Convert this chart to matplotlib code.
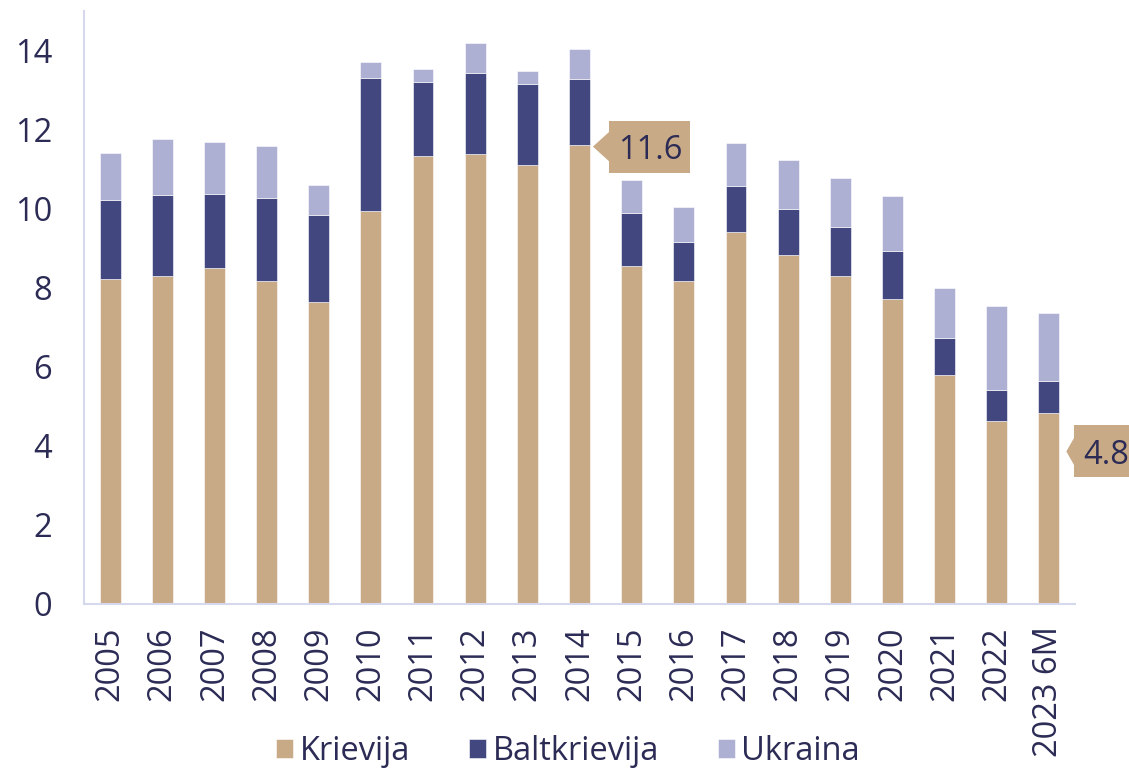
import numpy as np
import matplotlib as mpl
mpl.use("Agg")
import matplotlib.pyplot as plt
import matplotlib.patches as mpatches
import matplotlib.transforms as mtransforms

plt.rcParams['font.family'] = ['Open Sans', 'DejaVu Sans']

years = ["2005", "2006", "2007", "2008", "2009", "2010", "2011", "2012", "2013",
         "2014", "2015", "2016", "2017", "2018", "2019", "2020", "2021", "2022",
         "2023 6M"]
krievija = [8.22, 8.29, 8.50, 8.16, 7.63, 9.95, 11.34, 11.38, 11.11, 11.62,
            8.56, 8.18, 9.41, 8.83, 8.29, 7.72, 5.78, 4.64, 4.82]
baltkrievija = [2.01, 2.06, 1.86, 2.12, 2.22, 3.36, 1.86, 2.04, 2.05, 1.67,
                1.34, 0.97, 1.16, 1.17, 1.25, 1.21, 0.95, 0.78, 0.83]
ukraina = [1.19, 1.42, 1.33, 1.31, 0.76, 0.39, 0.34, 0.77, 0.31, 0.75,
           0.83, 0.88, 1.08, 1.22, 1.24, 1.39, 1.27, 2.12, 1.70]
series_names = ["Krievija", "Baltkrievija", "Ukraina"]
callout_labels = {9: "11.6", 18: "4.8"}

TAN = "#C9AA87"
DARK = "#434780"
LIGHT = "#AEB0D3"
TEXT = "#2B2B55"
SPINE = "#D6D8EE"
FS = 23.5
BAR_W = 0.4

fig = plt.figure(figsize=(11.29, 7.70), dpi=100)
ax = fig.add_axes([84 / 1129, 1 - 604 / 770, 991 / 1129, 593 / 770])

x = np.arange(len(years))
kr = np.array(krievija)
bk = np.array(baltkrievija)
uk = np.array(ukraina)
ax.bar(x, kr, BAR_W, color=TAN, label=series_names[0], edgecolor="white", linewidth=0.4)
ax.bar(x, bk, BAR_W, bottom=kr, color=DARK, label=series_names[1], edgecolor="white", linewidth=0.4)
ax.bar(x, uk, BAR_W, bottom=kr + bk, color=LIGHT, label=series_names[2], edgecolor="white", linewidth=0.4)

ax.set_xlim(-0.5, len(years) - 0.5)
ax.set_ylim(0, 15)
ax.set_yticks(np.arange(0, 15, 2))
ax.set_xticks(x)
ax.set_xticklabels(years, rotation=90, va="top", ha="center")
ax.tick_params(axis="both", length=0, labelsize=FS, colors=TEXT)
ax.tick_params(axis="y", pad=23)
ax.tick_params(axis="x", pad=16)
for s in ["top", "right"]:
    ax.spines[s].set_visible(False)
for s in ["left", "bottom"]:
    ax.spines[s].set_color(SPINE)
    ax.spines[s].set_linewidth(1.5)


def callout(ax, i, label, dx, dy, gap, text_w):
    # anchor at the right edge of the Krievija segment, offsets in pixels
    trans = mtransforms.ScaledTranslation(i + BAR_W / 2, krievija[i], ax.transData)
    trans = mtransforms.IdentityTransform() + trans
    left = dx + gap
    w = text_w + 20
    tri = mpatches.Polygon([[dx, dy], [left + 0.5, dy + 15], [left + 0.5, dy - 15]],
                           closed=True, fc=TAN, ec="none", transform=trans, clip_on=False)
    box = mpatches.Rectangle((left, dy - 26), w, 52, fc=TAN, ec="none",
                             transform=trans, clip_on=False)
    ax.add_patch(tri)
    ax.add_patch(box)
    ax.text(left + 9, dy, label, transform=trans, ha="left", va="center_baseline",
            fontsize=FS, color=TEXT, clip_on=False)


callout(ax, 9, callout_labels[9], 3, -2, 16, 61)
callout(ax, 18, callout_labels[18], 7, -38, 8, 47)

leg = fig.legend(loc="center", bbox_to_anchor=(568 / 1129, 1 - 752 / 770), ncol=3,
                 frameon=False, fontsize=FS, handlelength=0.52, handleheight=0.52,
                 handletextpad=0.2, columnspacing=1.8, borderaxespad=0)
for t in leg.get_texts():
    t.set_color(TEXT)

fig.savefig("out.png", dpi=100)
